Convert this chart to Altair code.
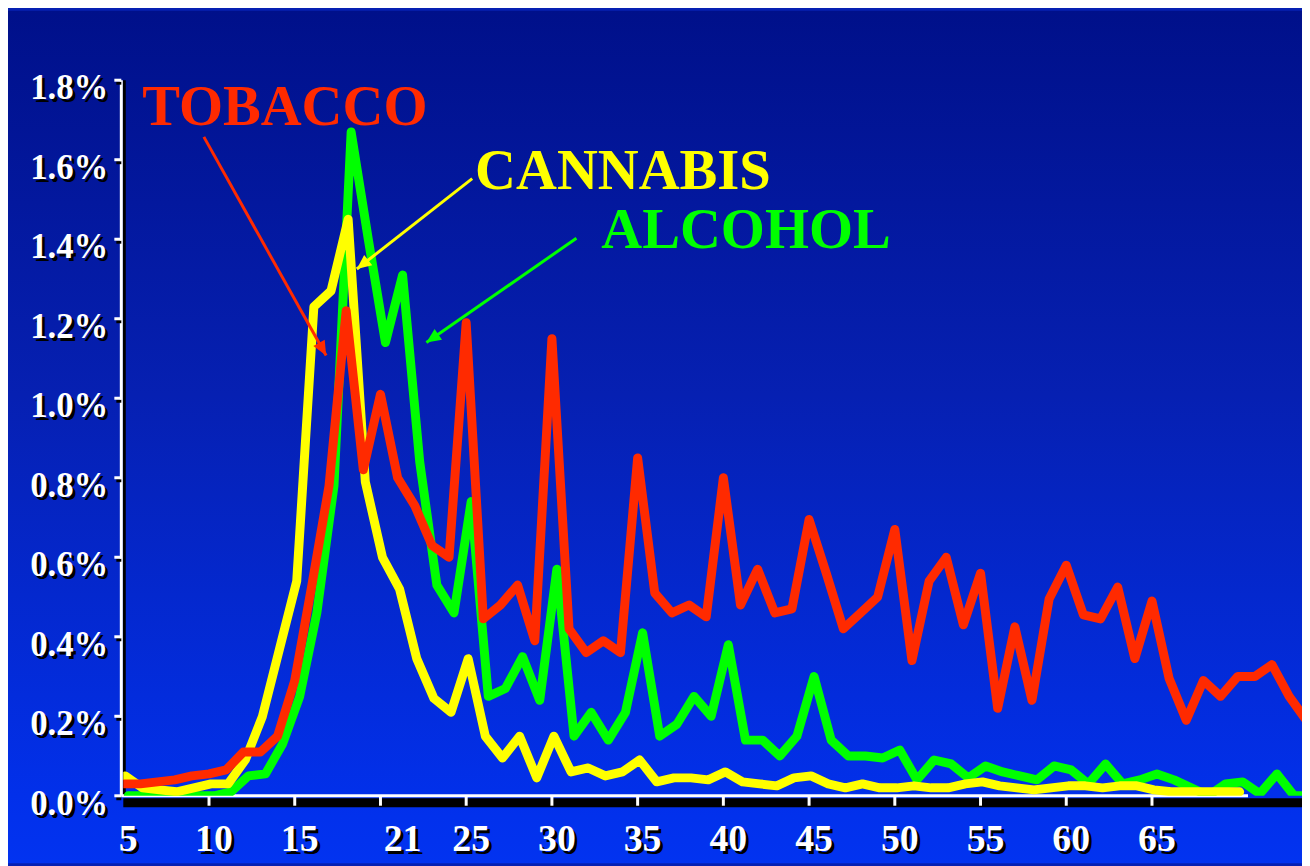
import math
import altair as alt
import pandas as pd

# ---------------- data ----------------
AGE_MIN = 5
AGE_MAX = 73.75
PCT_MAX = 1.8

TOBACCO_AGES = list(range(5, 75))
TOBACCO = [0.03, 0.03, 0.035, 0.04, 0.05, 0.055, 0.065, 0.11, 0.11, 0.15,
           0.29, 0.53, 0.78, 1.22, 0.82, 1.01, 0.80, 0.73, 0.63, 0.60,
           1.19, 0.445, 0.48, 0.53, 0.39, 1.15, 0.42, 0.36, 0.39, 0.36,
           0.85, 0.51, 0.46, 0.48, 0.45, 0.80, 0.48, 0.57, 0.46, 0.47,
           0.695, 0.56, 0.42, 0.46, 0.50, 0.67, 0.34, 0.54, 0.60, 0.43,
           0.56, 0.22, 0.425, 0.24, 0.495, 0.58, 0.455, 0.445, 0.525, 0.345,
           0.49, 0.295, 0.19, 0.29, 0.25, 0.30, 0.30, 0.33, 0.25, 0.19]

ALCOHOL_AGES = list(range(5, 75))
ALCOHOL = [0.0, 0.0, 0.0, 0.0, 0.0, 0.0, 0.01, 0.05, 0.055, 0.13,
           0.25, 0.46, 0.78, 1.67, 1.40, 1.14, 1.31, 0.84, 0.53, 0.46,
           0.74, 0.25, 0.27, 0.35, 0.24, 0.57, 0.15, 0.21, 0.14, 0.21,
           0.41, 0.15, 0.18, 0.25, 0.20, 0.38, 0.14, 0.14, 0.10, 0.15,
           0.30, 0.14, 0.10, 0.10, 0.095, 0.115, 0.04, 0.09, 0.08, 0.045,
           0.075, 0.06, 0.05, 0.04, 0.075, 0.065, 0.03, 0.08, 0.03, 0.04,
           0.055, 0.04, 0.02, 0.0, 0.03, 0.035, 0.005, 0.055, 0.0, 0.0]

CANNABIS_AGES = list(range(5, 71))
CANNABIS = [0.05, 0.02, 0.015, 0.01, 0.02, 0.03, 0.03, 0.09, 0.20, 0.37,
            0.54, 1.23, 1.27, 1.45, 0.79, 0.60, 0.52, 0.345, 0.245, 0.21,
            0.345, 0.15, 0.095, 0.15, 0.045, 0.15, 0.06, 0.07, 0.05, 0.06,
            0.09, 0.035, 0.045, 0.045, 0.04, 0.06, 0.035, 0.03, 0.025, 0.045,
            0.05, 0.03, 0.02, 0.03, 0.02, 0.02, 0.025, 0.02, 0.02, 0.03,
            0.035, 0.025, 0.02, 0.015, 0.02, 0.025, 0.025, 0.02, 0.025, 0.025,
            0.015, 0.01, 0.01, 0.01, 0.01, 0.01]

Y_TICKS = [0.0, 0.2, 0.4, 0.6, 0.8, 1.0, 1.2, 1.4, 1.6, 1.8]
Y_TICK_LABELS = ["0.0%", "0.2%", "0.4%", "0.6%", "0.8%", "1.0%", "1.2%", "1.4%", "1.6%", "1.8%"]
X_TICKS = [10, 15, 20, 25, 30, 35, 40, 45, 50, 55, 60, 65]
X_LABEL_VALUES = [5, 10, 15, 21, 25, 30, 35, 40, 45, 50, 55, 60, 65]
X_LABELS = ["5", "10", "15", "21", "25", "30", "35", "40", "45", "50", "55", "60", "65"]
X_AXIS_END = 70.6

SERIES_NAMES = ["TOBACCO", "CANNABIS", "ALCOHOL"]
SERIES_COLORS = ["#ff2a00", "#ffff00", "#00ff00"]
LABEL_AGE = [6.1, 25.52, 32.88]
LABEL_PCT = [1.6875, 1.5275, 1.3775]
ARROW_FROM_AGE = [9.70, 25.35, 31.43]
ARROW_FROM_PCT = [1.6575, 1.5525, 1.4025]
ARROW_TO_AGE = [16.83, 18.62, 22.68]
ARROW_TO_PCT = [1.1075, 1.325, 1.14]

# ---------------- layout ----------------
W, H = 1186, 720
PAD_L, PAD_T, PAD_R, PAD_B = 116, 70, 0, 68
FONT = "Liberation Serif"

xs = alt.Scale(domain=[AGE_MIN, AGE_MAX], nice=False, zero=False)
ys = alt.Scale(domain=[0, PCT_MAX], nice=False, zero=True)

one = pd.DataFrame({"k": [0]})


def X(field=None, datum=None):
    if datum is not None:
        return alt.X(datum=datum, type="quantitative", scale=xs, axis=None)
    return alt.X(field, type="quantitative", scale=xs, axis=None)


def Y(field=None, datum=None):
    if datum is not None:
        return alt.Y(datum=datum, type="quantitative", scale=ys, axis=None)
    return alt.Y(field, type="quantitative", scale=ys, axis=None)


# background gradient
bg = alt.Chart(one).mark_rect(
    clip=False,
    fill=alt.Gradient(
        gradient="linear",
        stops=[
            alt.GradientStop(color="#00108a", offset=0),
            alt.GradientStop(color="#0620b2", offset=0.45),
            alt.GradientStop(color="#0230ea", offset=0.92),
            alt.GradientStop(color="#0233f0", offset=1),
        ],
        x1=0, x2=0, y1=0, y2=1,
    ),
).encode(x=alt.value(-PAD_L), x2=alt.value(W + PAD_R), y=alt.value(-PAD_T), y2=alt.value(H + PAD_B))

# axes drawn as marks
x_band = alt.Chart(one).mark_rule(color="black", strokeWidth=9, yOffset=7, strokeCap="butt").encode(
    x=X(datum=AGE_MIN), x2=alt.X2(datum=AGE_MAX), y=Y(datum=0))
y_shadow = alt.Chart(one).mark_rule(color="black", strokeWidth=3, xOffset=1).encode(
    x=X(datum=AGE_MIN), y=Y(datum=0), y2=alt.Y2(datum=PCT_MAX))
y_line = alt.Chart(one).mark_rule(color="white", strokeWidth=3, xOffset=-2).encode(
    x=X(datum=AGE_MIN), y=Y(datum=0), y2=alt.Y2(datum=PCT_MAX))
x_line = alt.Chart(one).mark_rule(color="white", strokeWidth=3, xOffset=-2).encode(
    x=X(datum=AGE_MIN), x2=alt.X2(datum=X_AXIS_END), y=Y(datum=0))

ydf = pd.DataFrame({"v": Y_TICKS, "lab": Y_TICK_LABELS})
xtdf = pd.DataFrame({"t": X_TICKS})
xldf = pd.DataFrame({"v": X_LABEL_VALUES, "lab": X_LABELS})

y_tick_sh = alt.Chart(ydf).mark_rule(color="black", strokeWidth=3, yOffset=3).encode(
    y=Y("v"), x=alt.value(-7), x2=alt.value(-2))
y_ticks = alt.Chart(ydf).mark_rule(color="white", strokeWidth=3).encode(
    y=Y("v"), x=alt.value(-9), x2=alt.value(-2))
x_ticks = alt.Chart(xtdf).mark_rule(color="white", strokeWidth=3).encode(
    x=X("t"), y=alt.value(H), y2=alt.value(H + 10))

y_lab_sh = alt.Chart(ydf).mark_text(font=FONT, fontSize=35, fontWeight="bold", align="right",
                                    baseline="middle", color="black", dx=-12, dy=11).encode(
    x=X(datum=AGE_MIN), y=Y("v"), text="lab:N")
y_lab = alt.Chart(ydf).mark_text(font=FONT, fontSize=35, fontWeight="bold", align="right",
                                 baseline="middle", color="white", dx=-15, dy=8).encode(
    x=X(datum=AGE_MIN), y=Y("v"), text="lab:N")
x_lab_sh = alt.Chart(xldf).mark_text(font=FONT, fontSize=38, fontWeight="bold", align="center",
                                     baseline="middle", color="black", dx=8, dy=48).encode(
    x=X("v"), y=Y(datum=0), text="lab:N")
x_lab = alt.Chart(xldf).mark_text(font=FONT, fontSize=38, fontWeight="bold", align="center",
                                  baseline="middle", color="white", dx=5, dy=45).encode(
    x=X("v"), y=Y(datum=0), text="lab:N")


def series_line(ages, vals, color, xoff):
    df = pd.DataFrame({"age": ages, "pct": vals})
    return alt.Chart(df).mark_line(color=color, strokeWidth=9, strokeJoin="round", strokeCap="round",
                                   clip=True, xOffset=xoff).encode(x=X("age"), y=Y("pct"))


green = series_line(ALCOHOL_AGES, ALCOHOL, "#00ff00", 5)
yellow = series_line(CANNABIS_AGES, CANNABIS, "#ffff00", 2)
red = series_line(TOBACCO_AGES, TOBACCO, "#ff2a00", 0)

# annotations
PX_PER_AGE = W / (AGE_MAX - AGE_MIN)
PX_PER_PCT = H / PCT_MAX
angles = []
for fa, fp, ta, tp in zip(ARROW_FROM_AGE, ARROW_FROM_PCT, ARROW_TO_AGE, ARROW_TO_PCT):
    dx = (ta - fa) * PX_PER_AGE
    dy = -(tp - fp) * PX_PER_PCT
    angles.append(math.degrees(math.atan2(dx, -dy)) % 360)

adf = pd.DataFrame({
    "name": SERIES_NAMES, "col": SERIES_COLORS,
    "la": LABEL_AGE, "lp": LABEL_PCT,
    "fa": ARROW_FROM_AGE, "fp": ARROW_FROM_PCT,
    "ta": ARROW_TO_AGE, "tp": ARROW_TO_PCT, "ang": angles,
})

names = alt.Chart(adf).mark_text(font=FONT, fontSize=57, fontWeight="bold", align="left",
                                 baseline="alphabetic").encode(
    x=X("la"), y=Y("lp"), text="name:N", color=alt.Color("col:N", scale=None))
shafts = alt.Chart(adf).mark_rule(strokeWidth=3).encode(
    x=X("fa"), y=Y("fp"), x2="ta:Q", y2="tp:Q", color=alt.Color("col:N", scale=None))
heads = alt.Chart(adf).mark_point(shape="M0,0 L-0.45,1 L0.45,1 Z", filled=True, opacity=1,
                                  size=850, strokeWidth=0).encode(
    x=X("ta"), y=Y("tp"), angle=alt.Angle("ang:Q", scale=None),
    color=alt.Color("col:N", scale=None))

chart = alt.layer(
    bg, x_band, y_shadow, y_line, x_line, y_tick_sh, y_ticks, x_ticks,
    y_lab_sh, y_lab, x_lab_sh, x_lab,
    green, yellow, red, shafts, heads, names,
).properties(
    width=W, height=H,
    padding={"left": PAD_L, "top": PAD_T, "right": PAD_R, "bottom": PAD_B},
    autosize=alt.AutoSizeParams(type="none"),
    background="#0620b2",
).configure_view(stroke=None)

chart.save("out.html", embed_options={"renderer": "svg", "actions": False})
